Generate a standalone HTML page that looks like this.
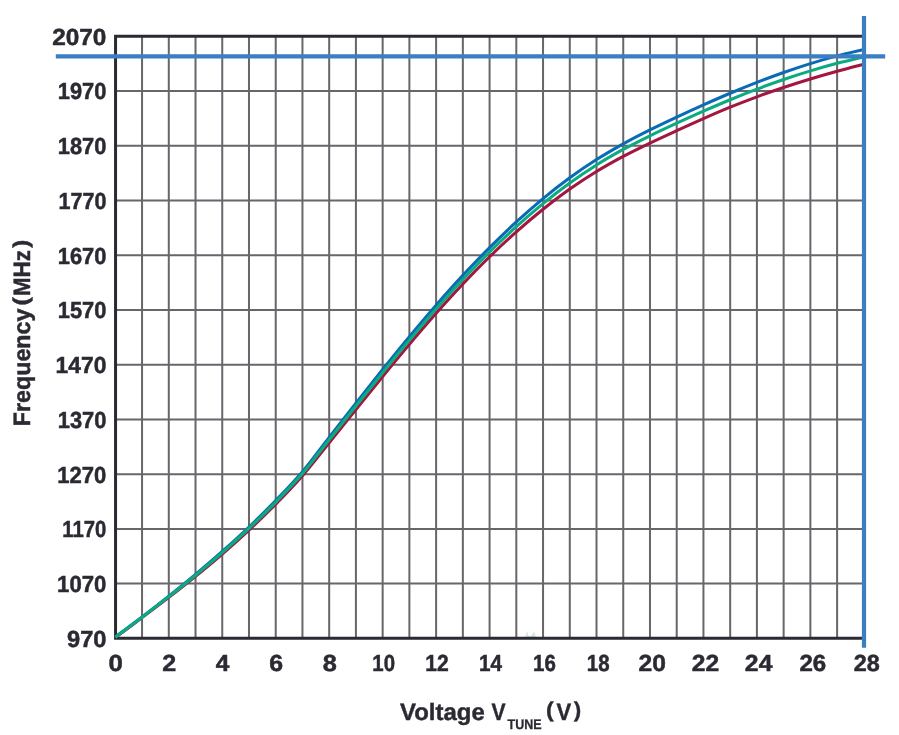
<!DOCTYPE html>
<html><head><meta charset="utf-8"><title>Frequency vs Tuning Voltage</title>
<style>html,body{margin:0;padding:0;background:#fff;overflow:hidden}svg{display:block;will-change:transform}text{font-family:"Liberation Sans",sans-serif;font-weight:bold;fill:#2b2a32;text-rendering:geometricPrecision}</style></head><body>
<svg width="899" height="735" viewBox="0 0 899 735" role="img" aria-label="Frequency (MHz) versus Voltage VTUNE (V)">
<rect width="899" height="735" fill="#fff"/>
<path d="M142.05 36.25 V638.35 M168.79 36.25 V638.35 M195.52 36.25 V638.35 M222.25 36.25 V638.35 M248.98 36.25 V638.35 M275.72 36.25 V638.35 M302.45 36.25 V638.35 M329.18 36.25 V638.35 M355.92 36.25 V638.35 M382.65 36.25 V638.35 M409.38 36.25 V638.35 M436.11 36.25 V638.35 M462.85 36.25 V638.35 M489.58 36.25 V638.35 M516.31 36.25 V638.35 M543.05 36.25 V638.35 M569.78 36.25 V638.35 M596.51 36.25 V638.35 M623.24 36.25 V638.35 M649.98 36.25 V638.35 M676.71 36.25 V638.35 M703.44 36.25 V638.35 M730.18 36.25 V638.35 M756.91 36.25 V638.35 M783.64 36.25 V638.35 M810.37 36.25 V638.35 M837.11 36.25 V638.35 M115.32 90.99 H863.84 M115.32 145.72 H863.84 M115.32 200.46 H863.84 M115.32 255.20 H863.84 M115.32 309.93 H863.84 M115.32 364.67 H863.84 M115.32 419.40 H863.84 M115.32 474.14 H863.84 M115.32 528.88 H863.84 M115.32 583.61 H863.84" stroke="#68656b" stroke-width="2" fill="none"/>
<path d="M525.1 637 L527.1 631 L528.7 635.9 L530.9 635.9 L534.3 631.4 L536 637 Z" fill="#cdeddd"/>
<path d="M863.84 36.25 H115.55 V638.35 H863.84" stroke="#2b2a32" stroke-width="3" fill="none" stroke-linejoin="miter"/>
<path d="M115.32 637.41 C119.78 634.12 133.14 624.32 142.05 617.65 C150.96 610.99 159.87 604.30 168.79 597.41 C177.70 590.52 186.61 583.55 195.52 576.31 C204.43 569.07 213.34 561.69 222.25 553.98 C231.16 546.26 240.07 538.34 248.98 530.03 C257.90 521.71 266.81 513.14 275.72 504.08 C284.63 495.02 293.54 485.90 302.45 475.67 C311.36 465.43 320.27 453.69 329.18 442.67 C338.09 431.64 347.00 420.52 355.92 409.50 C364.83 398.48 373.74 387.42 382.65 376.56 C391.56 365.70 400.47 354.87 409.38 344.33 C418.29 333.79 427.20 323.37 436.11 313.31 C445.03 303.25 453.94 293.40 462.85 283.98 C471.76 274.55 480.67 265.45 489.58 256.76 C498.49 248.06 507.40 239.73 516.31 231.81 C525.22 223.89 534.13 216.34 543.05 209.22 C551.96 202.10 560.87 195.38 569.78 189.09 C578.69 182.80 587.60 176.95 596.51 171.50 C605.42 166.05 614.33 161.13 623.24 156.39 C632.16 151.65 641.07 147.35 649.98 143.07 C658.89 138.78 667.80 134.75 676.71 130.68 C685.62 126.60 694.53 122.53 703.44 118.61 C712.35 114.69 721.26 110.81 730.18 107.17 C739.09 103.54 748.00 100.09 756.91 96.81 C765.82 93.53 774.73 90.44 783.64 87.48 C792.55 84.51 801.46 81.72 810.37 79.02 C819.29 76.33 828.20 73.78 837.11 71.30 C846.02 68.82 859.38 65.35 863.84 64.16" stroke="#a3163f" stroke-width="3.05" fill="none"/>
<path d="M115.32 637.02 C119.78 633.67 133.14 623.75 142.05 616.93 C150.96 610.12 159.87 603.24 168.79 596.15 C177.70 589.06 186.61 581.86 195.52 574.41 C204.43 566.96 213.34 559.36 222.25 551.46 C231.16 543.56 240.07 535.48 248.98 527.00 C257.90 518.52 266.81 509.78 275.72 500.57 C284.63 491.35 293.54 482.22 302.45 471.69 C311.36 461.16 320.27 448.81 329.18 437.39 C338.09 425.97 347.00 414.50 355.92 403.18 C364.83 391.86 373.74 380.57 382.65 369.49 C391.56 358.41 400.47 347.42 409.38 336.71 C418.29 326.00 427.20 315.44 436.11 305.22 C445.03 295.00 453.94 285.01 462.85 275.41 C471.76 265.81 480.67 256.52 489.58 247.61 C498.49 238.70 507.40 230.13 516.31 221.95 C525.22 213.78 534.13 205.94 543.05 198.58 C551.96 191.21 560.87 184.27 569.78 177.78 C578.69 171.28 587.60 165.24 596.51 159.58 C605.42 153.93 614.33 148.78 623.24 143.84 C632.16 138.90 641.07 134.38 649.98 129.93 C658.89 125.48 667.80 121.31 676.71 117.14 C685.62 112.97 694.53 108.87 703.44 104.89 C712.35 100.91 721.26 96.99 730.18 93.24 C739.09 89.50 748.00 85.86 756.91 82.40 C765.82 78.94 774.73 75.61 783.64 72.48 C792.55 69.35 801.46 66.37 810.37 63.61 C819.29 60.84 828.20 58.25 837.11 55.89 C846.02 53.53 859.38 50.52 863.84 49.44" stroke="#0a6bb5" stroke-width="3.05" fill="none"/>
<path d="M115.32 637.22 C119.78 633.89 133.14 623.99 142.05 617.23 C150.96 610.47 159.87 603.67 168.79 596.66 C177.70 589.66 186.61 582.56 195.52 575.21 C204.43 567.86 213.34 560.37 222.25 552.56 C231.16 544.76 240.07 536.77 248.98 528.37 C257.90 519.98 266.81 511.34 275.72 502.20 C284.63 493.06 293.54 483.95 302.45 473.55 C311.36 463.14 320.27 451.02 329.18 439.77 C338.09 428.51 347.00 417.20 355.92 406.02 C364.83 394.85 373.74 383.68 382.65 372.73 C391.56 361.77 400.47 350.88 409.38 340.28 C418.29 329.67 427.20 319.20 436.11 309.08 C445.03 298.96 453.94 289.05 462.85 279.54 C471.76 270.03 480.67 260.83 489.58 252.02 C498.49 243.21 507.40 234.74 516.31 226.68 C525.22 218.62 534.13 210.92 543.05 203.65 C551.96 196.38 560.87 189.49 569.78 183.04 C578.69 176.60 587.60 170.59 596.51 164.98 C605.42 159.38 614.33 154.31 623.24 149.44 C632.16 144.58 641.07 140.15 649.98 135.78 C658.89 131.42 667.80 127.33 676.71 123.23 C685.62 119.13 694.53 115.09 703.44 111.17 C712.35 107.26 721.26 103.40 730.18 99.73 C739.09 96.06 748.00 92.51 756.91 89.15 C765.82 85.78 774.73 82.56 783.64 79.51 C792.55 76.47 801.46 73.58 810.37 70.88 C819.29 68.17 828.20 65.63 837.11 63.29 C846.02 60.94 859.38 57.87 863.84 56.79" stroke="#0aab80" stroke-width="3.05" fill="none"/>
<path d="M55.8 56.4 H885.2 M864 16 V647.8" stroke="#3a7fc4" stroke-width="4.2" fill="none"/>
<text transform="translate(52.17 44.75) scale(1.0515 1.0000)" font-size="23.2" stroke="#2b2a32" stroke-width="0.50">2070</text>
<text transform="translate(57.72 99.49) scale(0.9427 1.0000)" font-size="23.2" stroke="#2b2a32" stroke-width="0.50">1970</text>
<text transform="translate(57.72 154.22) scale(0.9427 1.0000)" font-size="23.2" stroke="#2b2a32" stroke-width="0.50">1870</text>
<text transform="translate(58.54 208.96) scale(0.9266 1.0000)" font-size="23.2" stroke="#2b2a32" stroke-width="0.50">1770</text>
<text transform="translate(57.72 263.70) scale(0.9427 1.0000)" font-size="23.2" stroke="#2b2a32" stroke-width="0.50">1670</text>
<text transform="translate(57.72 318.43) scale(0.9427 1.0000)" font-size="23.2" stroke="#2b2a32" stroke-width="0.50">1570</text>
<text transform="translate(55.57 373.17) scale(0.9849 1.0000)" font-size="23.2" stroke="#2b2a32" stroke-width="0.50">1470</text>
<text transform="translate(57.72 427.90) scale(0.9427 1.0000)" font-size="23.2" stroke="#2b2a32" stroke-width="0.50">1370</text>
<text transform="translate(57.31 482.64) scale(0.9508 1.0000)" font-size="23.2" stroke="#2b2a32" stroke-width="0.50">1270</text>
<text transform="translate(62.31 537.38) scale(0.8742 1.0000)" font-size="23.2" stroke="#2b2a32" stroke-width="0.50">1170</text>
<text transform="translate(57.11 592.11) scale(0.9548 1.0000)" font-size="23.2" stroke="#2b2a32" stroke-width="0.50">1070</text>
<text transform="translate(66.99 646.85) scale(1.0213 1.0000)" font-size="23.2" stroke="#2b2a32" stroke-width="0.50">970</text>
<text transform="translate(108.47 671.30) scale(1.1130 1.0000)" font-size="23.2" stroke="#2b2a32" stroke-width="0.50">0</text>
<text transform="translate(162.16 671.30) scale(1.0809 1.0000)" font-size="23.2" stroke="#2b2a32" stroke-width="0.50">2</text>
<text transform="translate(215.80 671.30) scale(1.0538 1.0000)" font-size="23.2" stroke="#2b2a32" stroke-width="0.50">4</text>
<text transform="translate(269.36 671.30) scale(1.0723 1.0000)" font-size="23.2" stroke="#2b2a32" stroke-width="0.50">6</text>
<text transform="translate(322.65 671.30) scale(1.0917 1.0000)" font-size="23.2" stroke="#2b2a32" stroke-width="0.50">8</text>
<text transform="translate(372.30 671.30) scale(0.8800 1.0000)" font-size="23.2" stroke="#2b2a32" stroke-width="0.50">10</text>
<text transform="translate(425.36 671.30) scale(0.9095 1.0000)" font-size="23.2" stroke="#2b2a32" stroke-width="0.50">12</text>
<text transform="translate(478.98 671.30) scale(0.8929 1.0000)" font-size="23.2" stroke="#2b2a32" stroke-width="0.50">14</text>
<text transform="translate(533.10 671.30) scale(0.8833 1.0000)" font-size="23.2" stroke="#2b2a32" stroke-width="0.50">16</text>
<text transform="translate(586.80 671.30) scale(0.8833 1.0000)" font-size="23.2" stroke="#2b2a32" stroke-width="0.50">18</text>
<text transform="translate(638.57 671.30) scale(1.0612 1.0000)" font-size="23.2" stroke="#2b2a32" stroke-width="0.50">20</text>
<text transform="translate(691.87 671.30) scale(1.0612 1.0000)" font-size="23.2" stroke="#2b2a32" stroke-width="0.50">22</text>
<text transform="translate(744.87 671.30) scale(1.0667 1.0000)" font-size="23.2" stroke="#2b2a32" stroke-width="0.50">24</text>
<text transform="translate(799.48 671.30) scale(1.0384 1.0000)" font-size="23.2" stroke="#2b2a32" stroke-width="0.50">26</text>
<text transform="translate(853.79 671.30) scale(1.0101 1.0000)" font-size="23.2" stroke="#2b2a32" stroke-width="0.50">28</text>
<text transform="translate(400.00 719.50) scale(1.0157 1.0000)" font-size="23.6" stroke="#2b2a32" stroke-width="0.40">Voltage</text>
<text transform="translate(491.60 719.50) scale(0.8952 1.0000)" font-size="23.6" stroke="#2b2a32" stroke-width="0.40">V</text>
<text transform="translate(507.50 728.70) scale(0.8927 1.0000)" font-size="14.0" stroke="#2b2a32" stroke-width="0.30">TUNE</text>
<text transform="translate(546.00 716.90) scale(1.0000 0.9180)" font-size="23.3" stroke="#2b2a32" stroke-width="0.40">(</text>
<text transform="translate(556.50 719.50) scale(0.9333 1.0000)" font-size="23.6" stroke="#2b2a32" stroke-width="0.40">V</text>
<text transform="translate(573.84 716.90) scale(0.9571 0.9180)" font-size="23.3" stroke="#2b2a32" stroke-width="0.40">)</text>
<text transform="translate(30.10 426.13) rotate(-90) scale(0.9844 1.0000)" font-size="23.6" stroke="#2b2a32" stroke-width="0.50">Frequency</text>
<text transform="translate(27.90 305.47) rotate(-90) scale(1.0714 0.9180)" font-size="23.3" stroke="#2b2a32" stroke-width="0.50">(</text>
<text transform="translate(30.10 296.08) rotate(-90) scale(0.9476 1.0000)" font-size="23.6" stroke="#2b2a32" stroke-width="0.50">MHz</text>
<text transform="translate(27.90 247.64) rotate(-90) scale(1.0286 0.9180)" font-size="23.3" stroke="#2b2a32" stroke-width="0.50">)</text>
</svg></body></html>
